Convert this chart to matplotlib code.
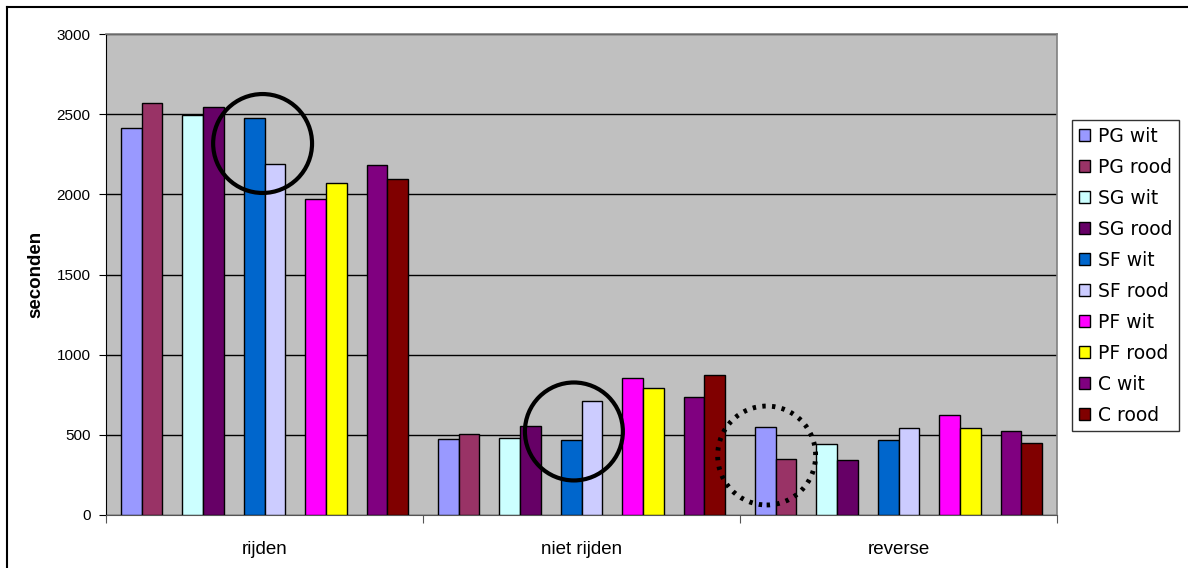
import numpy as np
import matplotlib
matplotlib.use('Agg')
import matplotlib.pyplot as plt
from matplotlib.patches import Ellipse
from matplotlib.lines import Line2D

# activiteiten en reeksen
categories = ['rijden', 'niet rijden', 'reverse']
series = ['PG wit', 'PG rood', 'SG wit', 'SG rood', 'SF wit',
          'SF rood', 'PF wit', 'PF rood', 'C wit', 'C rood']
colors = ['#9999FF', '#993366', '#CCFFFF', '#660066', '#0066CC',
          '#CCCCFF', '#FF00FF', '#FFFF00', '#800080', '#800000']

# seconden per reeks, volgorde: rijden, niet rijden, reverse
pg_wit = [2414, 476, 547]
pg_rood = [2572, 507, 349]
sg_wit = [2493, 482, 445]
sg_rood = [2547, 557, 341]
sf_wit = [2476, 470, 470]
sf_rood = [2190, 709, 541]
pf_wit = [1973, 853, 622]
pf_rood = [2071, 794, 541]
c_wit = [2183, 734, 524]
c_rood = [2094, 871, 447]
values = [pg_wit, pg_rood, sg_wit, sg_rood, sf_wit,
          sf_rood, pf_wit, pf_rood, c_wit, c_rood]

W, H = 1188, 568
fig = plt.figure(figsize=(W / 100, H / 100), dpi=100)
ax = fig.add_axes([106 / W, 53 / H, 951 / W, 481 / H])
ax.set_facecolor('#C0C0C0')

x = np.arange(len(categories))
bw = 0.0647
pair_gap = 0.194
for i, (name, vals) in enumerate(zip(series, values)):
    pair = i // 2
    side = -1 if i % 2 == 0 else 1
    pos = x + (pair - 2) * pair_gap + side * bw / 2
    ax.bar(pos, vals, width=bw, color=colors[i], edgecolor='black',
           linewidth=1, label=name, zorder=3)

ax.set_xlim(-0.5, 2.5)
ax.set_ylim(0, 3000)
ax.set_yticks(np.arange(0, 3001, 500))
ax.yaxis.grid(True, color='black', linewidth=1, zorder=1)
ax.set_axisbelow(True)

for s in ['top', 'right']:
    ax.spines[s].set_color('#808080')
    ax.spines[s].set_linewidth(1.2)
ax.spines['left'].set_color('black')
ax.spines['bottom'].set_color('#555555')

ax.set_xticks([-0.5, 0.5, 1.5, 2.5])
ax.set_xticklabels([])
ax.set_xticks(x, minor=True)
ax.set_xticklabels(categories, minor=True, fontsize=13.5, family='Liberation Sans')
ax.tick_params(axis='x', which='major', direction='out', length=6, color='#555555')
ax.tick_params(axis='x', which='minor', length=0, pad=19)
ax.tick_params(axis='y', direction='out', length=5, pad=6, labelsize=11)
for t in ax.get_yticklabels():
    t.set_family('Liberation Sans')

ax.set_ylabel('seconden', fontsize=13.5, fontweight='bold',
              family='Liberation Sans', labelpad=9)

# cirkels rond opvallende paren
ax.add_patch(Ellipse((-0.006, 2317), 0.312, 617, fill=False,
                     edgecolor='black', linewidth=3, zorder=5))
ax.add_patch(Ellipse((1 - 0.024, 521), 0.309, 611, fill=False,
                     edgecolor='black', linewidth=3, zorder=5))
ax.add_patch(Ellipse((2 - 0.416, 371), 0.309, 617, fill=False,
                     edgecolor='black', linewidth=3.5, linestyle=(0, (0.7, 1.3)),
                     zorder=5))

leg = fig.legend(loc='upper left', bbox_to_anchor=(1072 / W, 1 - 120 / H),
                 prop={'family': 'DejaVu Sans', 'size': 13.5},
                 frameon=True, fancybox=False, edgecolor='black',
                 handlelength=0.6, handleheight=0.6, handletextpad=0.45,
                 labelspacing=0.64, borderpad=0.35, borderaxespad=0)
leg.get_frame().set_linewidth(1)

# kader rond de grafiek
fig.add_artist(Line2D([7 / W, 7 / W], [0, 1 - 7 / H], color='black',
                      linewidth=1.5, transform=fig.transFigure))
fig.add_artist(Line2D([7 / W, 1], [1 - 7 / H, 1 - 7 / H], color='black',
                      linewidth=1.5, transform=fig.transFigure))

fig.savefig('out.png', dpi=100)
